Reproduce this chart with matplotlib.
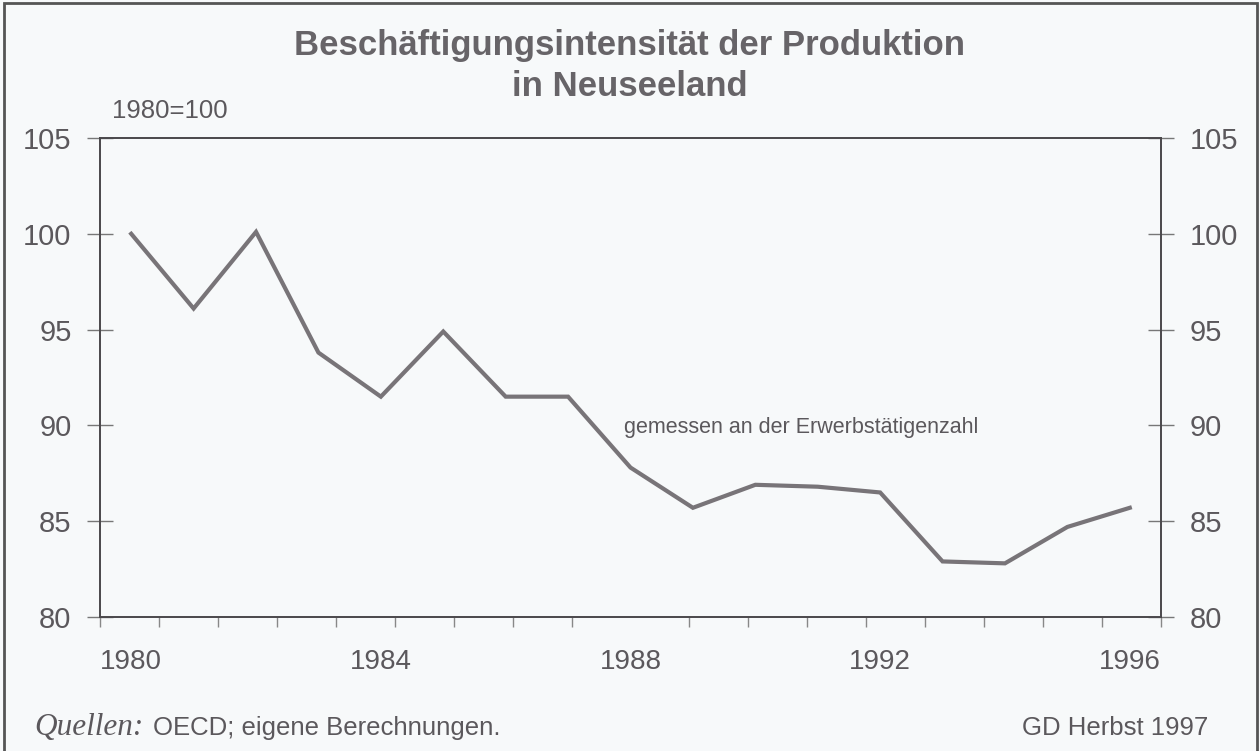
import numpy as np
import matplotlib
matplotlib.use("Agg")
import matplotlib.pyplot as plt
from matplotlib.patches import Rectangle


# Data (1980=100)
years = [1980, 1981, 1982, 1983, 1984, 1985, 1986, 1987, 1988,
         1989, 1990, 1991, 1992, 1993, 1994, 1995, 1996]
intensity = [100.0, 96.1, 100.1, 93.8, 91.5, 94.9, 91.5, 91.5, 87.8,
             85.7, 86.9, 86.8, 86.5, 82.9, 82.8, 84.7, 85.7]
year_labels = [1980, 1984, 1988, 1992, 1996]
y_ticks = [80, 85, 90, 95, 100, 105]

title = "Beschäftigungsintensität der Produktion\nin Neuseeland"
series_note = "gemessen an der Erwerbstätigenzahl"
unit_note = "1980=100"

plt.rcParams["font.family"] = ["Liberation Sans", "DejaVu Sans"]

W, H = 1260, 751
bg = "#f7f9fa"
txt = "#5b585c"
line_col = "#787478"
axis_col = "#4a484b"

fig = plt.figure(figsize=(W / 100, H / 100), dpi=100, facecolor=bg)

# Plot area in pixel coordinates
left, right, top, bottom = 100, 1161, 138, 617
ax = fig.add_axes([left / W, 1 - bottom / H, (right - left) / W, (bottom - top) / H])
ax.set_facecolor(bg)

ax.plot(years, intensity, color=line_col, lw=3.0, solid_joinstyle="miter")

ax.set_xlim(1979.5, 1996.5)
ax.set_ylim(80, 105)

# x axis: labels at years, small ticks dividing the axis
ax.set_xticks(year_labels)
ax.set_xticklabels([str(y) for y in year_labels])
ax.set_xticks(np.linspace(1979.5, 1996.5, 19), minor=True)
ax.tick_params(axis="x", which="major", length=0, pad=23, labelsize=20,
               labelcolor=txt)
ax.tick_params(axis="x", which="minor", length=7, width=1.0, color="#888888",
               direction="out")

# y axis on both sides
ax.set_yticks(y_ticks)
ax.tick_params(axis="y", which="major", direction="inout", length=19, width=1.0,
               color="#777777", pad=11, labelsize=21, labelcolor=txt,
               left=True, right=True, labelleft=True, labelright=True)
for lab in ax.get_yticklabels() + ax.get_yticklabels(which="major"):
    lab.set_va("center_baseline")

for side in ["left", "right", "top", "bottom"]:
    ax.spines[side].set_color(axis_col)
    ax.spines[side].set_linewidth(1.4)

ax.text(1987.9, 89.9, series_note, fontsize=15.5, color=txt, va="center", ha="left")

fig.text(630 / W, 1 - 66 / H, title, ha="center", va="center", fontsize=25,
         fontweight="bold", color="#676468", linespacing=1.3)
fig.text(112 / W, 1 - 111 / H, unit_note, ha="left", va="center", fontsize=18.5,
         color=txt)

fig.text(34 / W, 1 - 727 / H, "Quellen:", ha="left", va="center", fontsize=22.5,
         style="italic", family=["Liberation Serif", "DejaVu Serif"], color=txt)
fig.text(153 / W, 1 - 728 / H, "OECD; eigene Berechnungen.", ha="left",
         va="center", fontsize=18.5, color=txt)
fig.text(1208 / W, 1 - 728 / H, "GD Herbst 1997", ha="right", va="center",
         fontsize=18.5, color=txt)

# Outer frame of the figure
fig.patches.append(Rectangle((4 / W, -0.01), (1257 - 4) / W, 1 - 3 / H + 0.01,
                             transform=fig.transFigure, fill=False,
                             edgecolor="#555555", lw=2.0))

fig.savefig("out.png", dpi=100, facecolor=bg)
